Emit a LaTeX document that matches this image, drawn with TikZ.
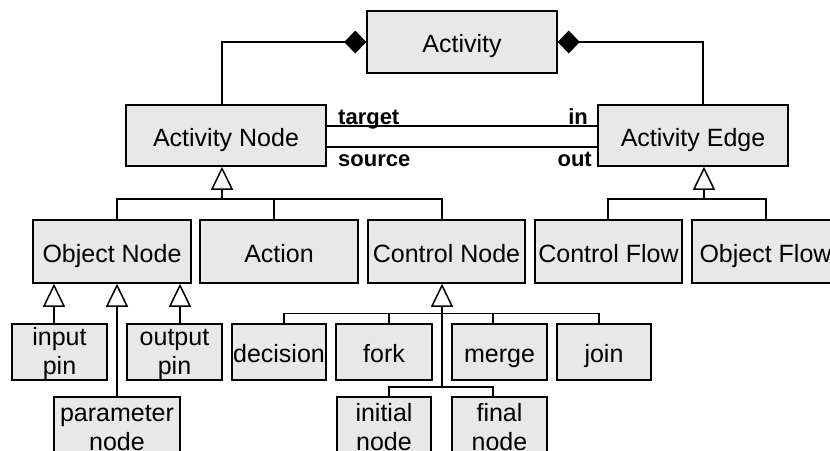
\documentclass[tikz,border=0pt]{standalone}
\usepackage{fontspec}
\setmainfont{Liberation Sans}
\usetikzlibrary{arrows.meta}
\definecolor{boxgray}{RGB}{232,232,232}
% two-line label with a fixed first-line height
\newcommand{\twolines}[2]{\rule{0pt}{22pt}#1\\#2}
\tikzset{
  box/.style={draw, fill=boxgray, line width=1.5pt, inner sep=0pt, align=center,
    font=\fontsize{25}{29}\selectfont},
  onebox/.style={box, text height=21pt, text depth=0pt},
  lbl/.style={inner sep=0pt, font=\bfseries\fontsize{22}{24}\selectfont},
  conn/.style={line width=1.5pt},
  comp/.style={conn, {Diamond[length=22pt,width=23pt]}-},
  gen/.style={conn, -{Triangle[open,length=23pt,width=22pt]}}
}
\begin{document}
\begin{tikzpicture}[x=1pt,y=-1pt]
\useasboundingbox (0,0) rectangle (830,450);
\clip (0,0) rectangle (830,450);

% top level
\node[onebox, minimum width=190pt, minimum height=62pt] (act) at (462,42) {Activity};
\node[onebox, minimum width=200pt, minimum height=61pt] (an) at (226,135.5) {Activity Node};
\node[onebox, minimum width=190pt, minimum height=61pt] (ae) at (693,135.5) {Activity Edge};

% second level
\node[onebox, minimum width=158pt, minimum height=63pt] (on) at (112,251.5) {Object Node};
\node[onebox, minimum width=158pt, minimum height=63pt] (action) at (279,251.5) {Action};
\node[onebox, minimum width=157pt, minimum height=63pt] (cn) at (446.5,251.5) {Control Node};
\node[onebox, minimum width=147pt, minimum height=63pt] (cf) at (608.5,251.5) {Control Flow};
\node[onebox, minimum width=147pt, minimum height=63pt] (of) at (765.5,251.5) {Object Flow};

% third level
\node[box, minimum width=95pt, minimum height=56pt] (ip) at (59.5,352) {\twolines{input}{pin}};
\node[box, minimum width=95pt, minimum height=56pt] (op) at (174.5,352) {\twolines{output}{pin}};
\node[onebox, minimum width=94pt, minimum height=56pt] (dec) at (279,352) {decision};
\node[onebox, minimum width=96pt, minimum height=56pt] (fork) at (384,352) {fork};
\node[onebox, minimum width=95pt, minimum height=56pt] (merge) at (499.5,352) {merge};
\node[onebox, minimum width=94pt, minimum height=56pt] (join) at (604,352) {join};

% bottom level
\node[box, minimum width=126pt, minimum height=56pt] (pn) at (117,425) {\twolines{parameter}{node}};
\node[box, minimum width=94pt, minimum height=56pt] (init) at (384,425) {\twolines{initial}{node}};
\node[box, minimum width=95pt, minimum height=56pt] (final) at (499.5,425) {\twolines{final}{node}};

% composition links
\draw[comp] (act.west) -| ([xshift=-4pt]an.north);
\draw[comp] (act.east) -| ([xshift=10pt]ae.north);

% target / source associations
\draw[conn] ([yshift=9.5pt]an.east) -- ([yshift=9.5pt]ae.west);
\draw[conn] ([yshift=-11.5pt]an.east) -- ([yshift=-11.5pt]ae.west);
\node[lbl, anchor=base west] (tgt) at (338,124) {target};
\node[lbl, anchor=base west] (src) at (338,166) {source};
\node[lbl, anchor=base east] (inl) at (588,124) {in};
\node[lbl, anchor=base east] (outl) at (592,166) {out};

% generalizations of Activity Node
\coordinate (j1) at (222,199);
\draw[gen] (j1) -- (j1 |- an.south);
\draw[conn] ([xshift=5pt]on.north) |- (j1) -| ([xshift=-4.5pt]cn.north);
\draw[conn] ([xshift=-5pt]action.north) -- ++(0,-21);

% generalizations of Activity Edge
\coordinate (j2) at (704,199);
\draw[gen] (j2) -- (j2 |- ae.south);
\draw[conn] ([xshift=-0.5pt]cf.north) |- (j2) -| ([xshift=0.5pt]of.north);

% generalizations of Object Node
\draw[gen] ([xshift=-5.5pt]ip.north) -- ([xshift=-5.5pt]ip.north |- on.south);
\draw[gen] ([xshift=5.5pt]op.north) -- ([xshift=5.5pt]op.north |- on.south);
\draw[gen] (pn.north) -- (pn.north |- on.south);

% generalizations of Control Node
\coordinate (j3) at (442,314);
\coordinate (j4) at (442,387);
\draw[gen] (j3) -- (j3 |- cn.south);
\draw[conn] (j4) -- (j3);
\draw[conn] ([xshift=5pt]dec.north) -- ++(0,-10) -| ([xshift=-5pt]join.north);
\draw[conn] ([xshift=5pt]fork.north) -- ++(0,-10);
\draw[conn] ([xshift=-6.5pt]merge.north) -- ++(0,-10);
\draw[conn] ([xshift=5pt]init.north) |- (j4) -| ([xshift=-6.5pt]final.north);
\end{tikzpicture}
\end{document}
